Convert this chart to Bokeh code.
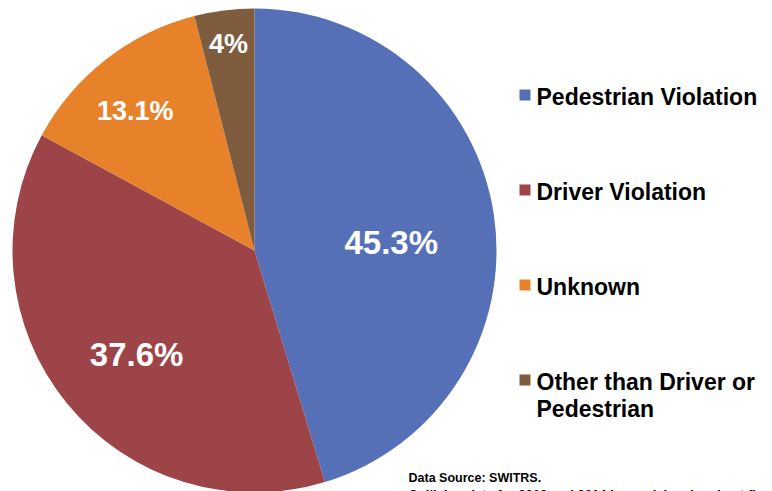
import math
import textwrap
from bokeh.plotting import figure
from bokeh.models import Range1d, ColumnDataSource
from bokeh.core.properties import value
from bokeh.embed import file_html
from bokeh.resources import INLINE

# ---- data ----
categories = ["Pedestrian Violation", "Driver Violation", "Unknown",
              "Other than Driver or Pedestrian"]
shares = [45.3, 37.6, 13.1, 4.0]
share_labels = ["45.3%", "37.6%", "13.1%", "4%"]
colors = ["#5670b8", "#9d4448", "#e7822b", "#7f5c3d"]
source_note = ["Data Source: SWITRS.",
               "Collision data for 2013 and 2014 is provisional and not final."]

# ---- styling ----
W, H = 772, 491
FONT = "Liberation Sans"
cx, cy, R = 254, H - 250, 242
label_rfrac = [0.566, 0.649, 0.76, 0.86]
label_nudge = [-4.9, 2.1, 2.4, 0.0]
label_size = [33, 33, 27, 27]
BASE_FIX = 0.35  # renderer places alphabetic baseline lower; compensate

p = figure(width=W, height=H, output_backend="svg", toolbar_location=None,
           x_range=Range1d(0, W), y_range=Range1d(0, H),
           min_border=0, background_fill_color="white", border_fill_color="white")
p.axis.visible = False
p.grid.visible = False
p.outline_line_color = None

total = sum(shares)
starts, ends, mids = [], [], []
acc = 0.0
for s in shares:
    a0 = math.pi / 2 - 2 * math.pi * acc / total
    acc += s
    a1 = math.pi / 2 - 2 * math.pi * acc / total
    starts.append(a1)
    ends.append(a0)
    mids.append((a0 + a1) / 2)

src = ColumnDataSource(dict(start=starts, end=ends, color=colors))
p.wedge(x=cx, y=cy, radius=R, start_angle="start", end_angle="end",
        fill_color="color", line_color=None, source=src)

# slice labels
for m, f, n, fs, t in zip(mids, label_rfrac, label_nudge, label_size, share_labels):
    a = m + math.radians(n)
    x = cx + R * f * math.cos(a)
    y = cy + R * f * math.sin(a) - 0.358 * fs + BASE_FIX * fs
    p.text(x=[x], y=[y], text=[t], text_color="white", text_font=value(FONT),
           text_font_style="bold", text_font_size=f"{fs}px",
           text_align="center", text_baseline="alphabetic")

# legend
leg_x_sq, leg_x_txt = 524.5, 536
row_base0, row_step, line_h = 105, 95, 27
lfs = 23
for i, (cat, col) in enumerate(zip(categories, colors)):
    base = row_base0 + i * row_step
    p.rect(x=[leg_x_sq], y=[H - (base - 10.5)], width=11, height=11,
           fill_color=col, line_color=None)
    for j, line in enumerate(textwrap.wrap(cat, 20)):
        p.text(x=[leg_x_txt], y=[H - (base + j * line_h) + BASE_FIX * lfs], text=[line],
               text_color="black", text_font=value(FONT), text_font_style="bold",
               text_font_size=f"{lfs}px", text_align="left", text_baseline="alphabetic")

# footer
ffs = [12.5, 13]
for j, line in enumerate(source_note):
    p.text(x=[408], y=[H - (482 + j * 17) + BASE_FIX * ffs[j]], text=[line], text_color="black",
           text_font=value(FONT), text_font_style="bold", text_font_size=f"{ffs[j]}px",
           text_align="left", text_baseline="alphabetic")

open("out.html", "w").write(file_html(p, INLINE))
